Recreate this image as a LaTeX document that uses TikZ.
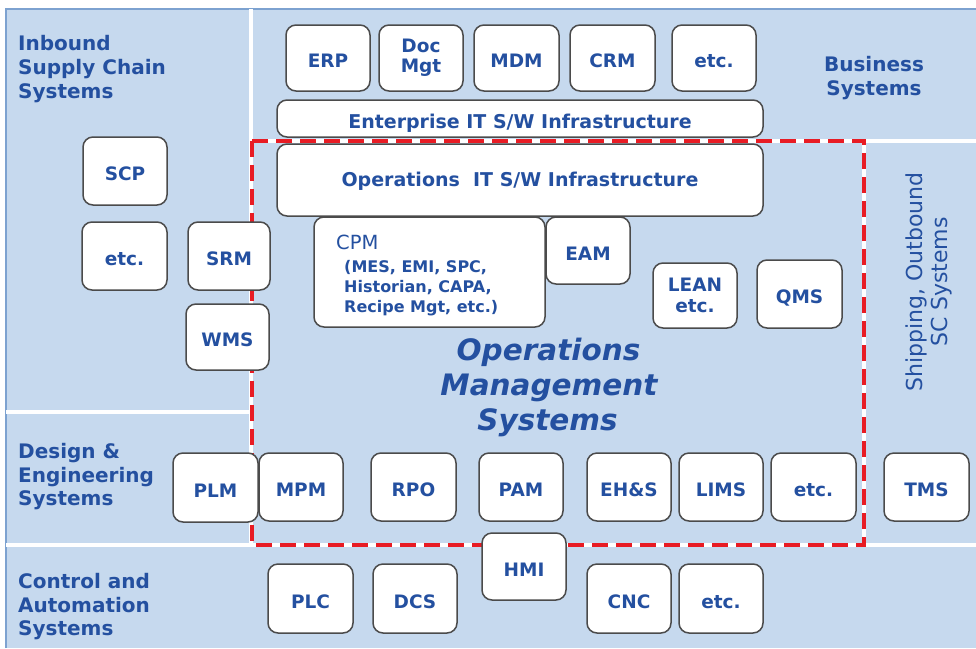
\documentclass[tikz,border=0pt]{standalone}
\usepackage{fontspec}
\setmainfont{DejaVu Sans}
\definecolor{panel}{RGB}{198,217,238}
\definecolor{frameblue}{RGB}{125,162,208}
\definecolor{ink}{RGB}{36,80,160}
\definecolor{boxline}{RGB}{75,75,75}
\definecolor{dashred}{RGB}{232,28,36}

\tikzset{
  sysbox/.style={draw=boxline, fill=white, line width=1.5pt, rounded corners=10pt,
    text=ink, align=center, inner sep=0pt, text height=19pt, text depth=0pt,
    font=\fontsize{18.5}{22}\selectfont\bfseries},
  twoline/.style={sysbox, text height={}, text depth={},
    font=\fontsize{18.5}{20}\selectfont\bfseries},
  infrabox/.style={sysbox, font=\fontsize{19}{22}\selectfont\bfseries},
  seclabel/.style={text=ink, inner sep=0pt, anchor=base west,
    font=\fontsize{20}{24}\selectfont\bfseries},
  cpmline/.style={text=ink, inner sep=0pt, anchor=base west,
    font=\fontsize{16}{20}\selectfont\bfseries},
  bigtitle/.style={text=ink, inner sep=0pt, anchor=base,
    font=\fontsize{29.5}{35}\selectfont\bfseries\itshape},
  divider/.style={white, line width=4pt},
  omsborder/.style={dashred, line width=4pt, dash pattern=on 16pt off 8pt},
}

% box from corner (x1,y1) to (x2,y2), pixel-like units with y pointing down
\newcommand\sysnode[7][sysbox]{%
  \node[#1, minimum width={(#5-#3)*1pt}, minimum height={(#6-#4)*1pt}]
    (#2) at ({(#3+#5)/2},{-(#4+#6)/2}) {#7};}

\begin{document}
\begin{tikzpicture}[x=1pt,y=1pt]
\useasboundingbox (0,0) rectangle (976,-648);

% background panel with its frame on the top and left
\fill[panel] (6,-9) rectangle (976,-648);
\draw[frameblue, line width=1.6pt] (6,-648) -- (6,-9) -- (976,-9);

% white dividers between the system areas
\draw[divider] (251,-9) -- (251,-545);
\draw[divider] (6,-412) -- (251,-412);
\draw[divider] (6,-545) -- (976,-545);
\draw[divider] (251,-141) -- (976,-141);
\draw[divider] (864,-141) -- (864,-545);

% operations management boundary
\draw[omsborder] (252,-141) rectangle (864,-545);

% area labels
\node[seclabel] (inb1) at (18,-50.5) {Inbound};
\node[seclabel] (inb2) at (18,-74.5) {Supply Chain};
\node[seclabel] (inb3) at (18,-98.5) {Systems};

\node[seclabel, anchor=base] (bus1) at (874,-71) {Business};
\node[seclabel, anchor=base] (bus2) at (874,-95) {Systems};

\node[seclabel] (des1) at (18,-458) {Design \&};
\node[seclabel] (des2) at (18,-482) {Engineering};
\node[seclabel] (des3) at (18,-505.5) {Systems};

\node[seclabel] (ctl1) at (18,-588) {Control and};
\node[seclabel] (ctl2) at (18,-612) {Automation};
\node[seclabel] (ctl3) at (18,-635.5) {Systems};

\node[text=ink, inner sep=0pt, rotate=90, align=center,
      font=\fontsize{22}{25}\selectfont] (ship) at (929,-282)
      {Shipping, Outbound\\SC Systems};

\node[bigtitle] (oms1) at (548.5,-360) {Operations};
\node[bigtitle] (oms2) at (549,-395) {Management};
\node[bigtitle] (oms3) at (547.5,-430) {Systems};

% business systems
\sysnode{erp}{286}{25}{370}{91}{ERP}
\sysnode[twoline]{doc}{379}{25}{463}{91}{Doc\\Mgt}
\sysnode{mdm}{474}{25}{559}{91}{MDM}
\sysnode{crm}{570}{25}{655}{91}{CRM}
\sysnode{busetc}{672}{25}{756}{91}{etc.}
\sysnode[infrabox]{entinfra}{277}{100}{763}{137}{Enterprise IT S/W Infrastructure}

% operations systems
\sysnode[infrabox, text height=13.5pt]{opsinfra}{277}{144}{763}{216}{Operations\ \ IT S/W Infrastructure}
\sysnode{cpm}{314}{217}{545}{327}{}
\node[text=ink, inner sep=0pt, anchor=base west, font=\fontsize{19.5}{22}\selectfont]
  (cpmhead) at (336,-249) {CPM};
\node[cpmline] (cpm1) at (344,-272.5) {(MES, EMI, SPC,};
\node[cpmline] (cpm2) at (344,-292.5) {Historian, CAPA,};
\node[cpmline] (cpm3) at (344,-312.5) {Recipe Mgt, etc.)};
\sysnode{eam}{546}{217}{630}{284}{EAM}
\sysnode[twoline, font=\fontsize{18.5}{21}\selectfont\bfseries, yshift=-1pt]{lean}{653}{262}{737}{327}{LEAN\\etc.}
\sysnode{qms}{757}{260}{842}{328}{QMS}

% inbound supply chain systems
\sysnode{scp}{83}{137}{167}{205}{SCP}
\sysnode{inbetc}{82}{222}{167}{290}{etc.}
\sysnode{srm}{188}{222}{270}{290}{SRM}
\sysnode{wms}{186}{304}{269}{370}{WMS}

% design, engineering and plant-floor systems
\sysnode{plm}{173}{453}{258}{522}{PLM}
\sysnode{mpm}{259}{453}{343}{521}{MPM}
\sysnode{rpo}{371}{453}{456}{521}{RPO}
\sysnode{pam}{479}{453}{563}{521}{PAM}
\sysnode{ehs}{587}{453}{671}{521}{EH\&S}
\sysnode{lims}{679}{453}{763}{521}{LIMS}
\sysnode{opsetc}{771}{453}{856}{521}{etc.}
\sysnode{tms}{884}{453}{969}{521}{TMS}

% control and automation systems
\sysnode{hmi}{482}{533}{566}{600}{HMI}
\sysnode{plc}{268}{564}{353}{633}{PLC}
\sysnode{dcs}{373}{564}{457}{633}{DCS}
\sysnode{cnc}{587}{564}{671}{633}{CNC}
\sysnode{ctletc}{679}{564}{763}{633}{etc.}
\end{tikzpicture}
\end{document}
